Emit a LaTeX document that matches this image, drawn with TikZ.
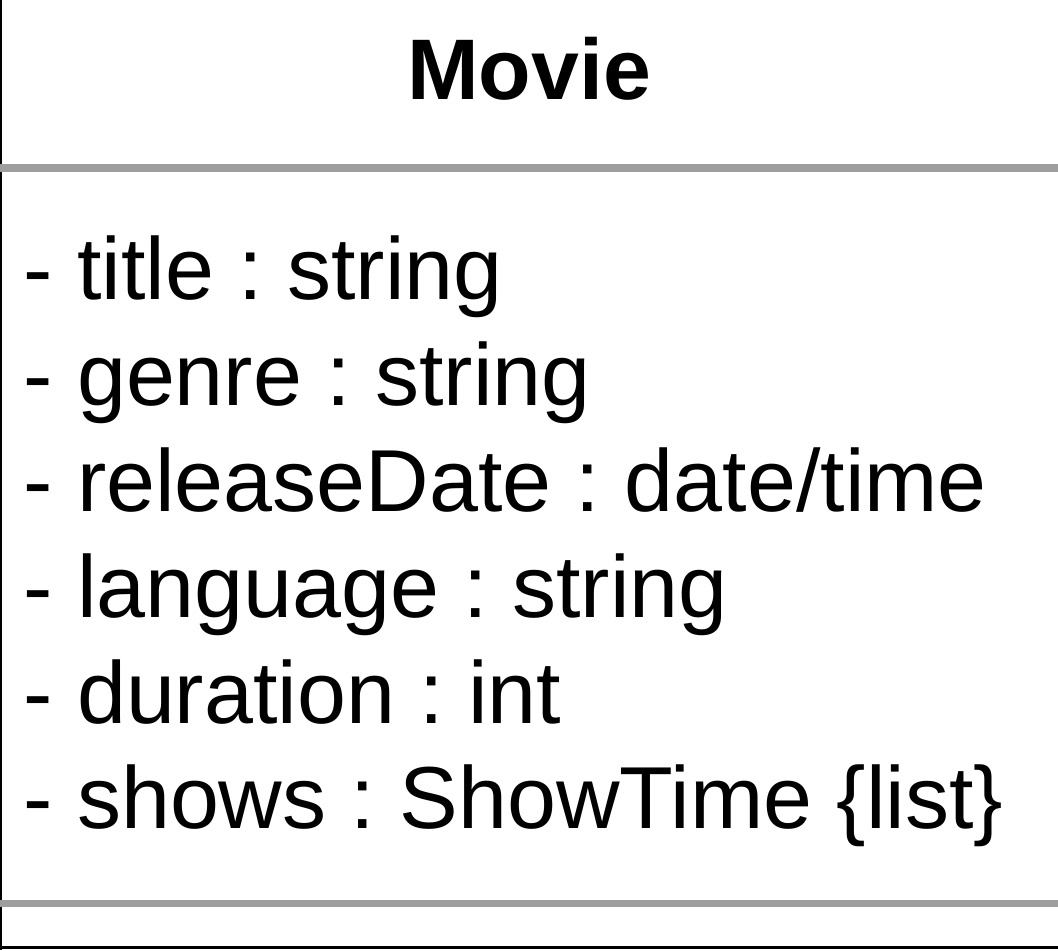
\documentclass[tikz,border=0pt]{standalone}
\usepackage{fontspec}
\setmainfont{Liberation Sans}
\frenchspacing
\begin{document}
\begin{tikzpicture}[x=0.5pt, y=-0.5pt]
       \tikzstyle{classname}=[inner sep=0pt, anchor=base, font=\fontsize{43}{52}\selectfont\bfseries]
       \tikzstyle{attrnode}=[inner sep=0pt, anchor=base west, font=\fontsize{44}{53}\selectfont]
       \tikzstyle{borderline}=[draw=black, line width=1.2pt]
       \tikzstyle{sepline}=[draw=black!38, line width=3.8pt]
       \useasboundingbox (0,0) rectangle (1058,950);
       % class box, cut off at the top and the right
       \draw[borderline] (1,0) -- (1,950);
       \draw[borderline] (0,947.5) -- (1058,947.5);
       \draw[sepline] (0,168) -- (1058,168);
       \draw[sepline] (0,903.5) -- (1058,903.5);
       % name
       \node[classname] (name) at (529,99) {Movie};
       % attributes
       \node[attrnode] (title) at (23,299) {- title : string};
       \node[attrnode] (genre) at (23,405) {- genre : string};
       \node[attrnode] (release) at (23,511) {- releaseDate : date/time};
       \node[attrnode] (language) at (23,617) {- language : string};
       \node[attrnode] (duration) at (23,723) {- duration : int};
       \node[attrnode] (shows) at (23,828) {- shows : ShowTime \{list\}};
      \end{tikzpicture}
\end{document}
